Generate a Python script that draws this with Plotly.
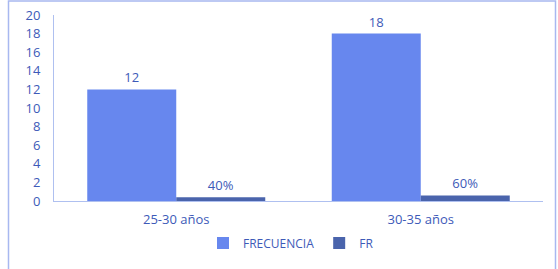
import plotly.graph_objects as go

categories = ["25-30 años", "30-35 años"]
frecuencia = [12, 18]
fr = [0.4, 0.6]
fr_labels = ["40%", "60%"]
y_ticks = [0, 2, 4, 6, 8, 10, 12, 14, 16, 18, 20]

txt = "#3D5AB8"
fig = go.Figure()
fig.add_trace(go.Bar(x=categories, y=frecuencia, name="FRECUENCIA",
                     marker=dict(color="#6787EE", line=dict(width=0)),
                     text=[str(v) for v in frecuencia], textposition="outside",
                     textfont=dict(color=txt, size=13), cliponaxis=False))
fig.add_trace(go.Bar(x=categories, y=fr, name="FR",
                     marker=dict(color="#4A64AC", line=dict(width=0)),
                     text=fr_labels, textposition="outside",
                     textfont=dict(color=txt, size=13), cliponaxis=False))

W, H = 558, 269
l, r, t, b = 54, 15, 15, 68
pw, ph = W - l - r, H - t - b

def px(x):
    return (x - l) / pw

def py(y):
    return (H - b - y) / ph

fig.add_shape(type="rect", xref="paper", yref="paper",
              x0=px(8.5), x1=px(555.5), y0=py(275), y1=py(1),
              line=dict(color="#A8B8F0", width=1.5), fillcolor="rgba(0,0,0,0)", layer="below")

fig.update_layout(
    width=W, height=H,
    margin=dict(l=l, r=r, t=t, b=b, autoexpand=False),
    paper_bgcolor="white", plot_bgcolor="white",
    barmode="group", bargap=0.272, bargroupgap=0,
    font=dict(family="Open Sans", size=12, color=txt),
    showlegend=True,
    legend=dict(orientation="h", x=px(291), xanchor="center", y=py(243), yanchor="middle",
                font=dict(size=12, color=txt), itemwidth=30, traceorder="normal"),
    xaxis=dict(showline=True, linecolor="#AFC0F0", linewidth=1, ticks="", automargin=False,
               ticklabelstandoff=6,
               tickfont=dict(size=13, color=txt), showgrid=False),
    yaxis=dict(range=[0, 20], tickvals=y_ticks, showline=True, linecolor="#AFC0F0",
               linewidth=1, showgrid=False, zeroline=False, ticks="", automargin=False,
               ticklabelstandoff=10,
               tickfont=dict(size=13, color=txt)),
)

fig.write_html("out.html", config={"displayModeBar": False},
               post_script="document.body.style.margin='0';document.body.style.overflow='hidden';")
